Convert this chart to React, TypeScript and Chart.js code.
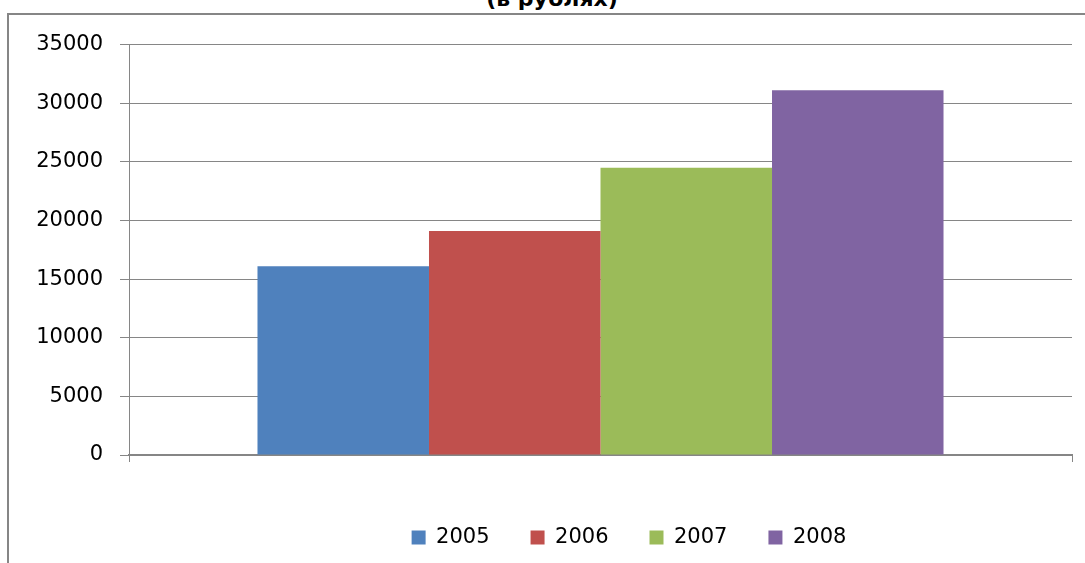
import React, { useEffect, useRef } from "react";
import { Chart, registerables } from "chart.js";

Chart.register(...registerables);

const titleText = "(в рублях)";
const categories = [""];
const seriesLabels = ["2005", "2006", "2007", "2008"];
const seriesValues = [16100, 19100, 24500, 31100];
const seriesColors = ["#4F81BD", "#C0504D", "#9BBB59", "#8064A2"];
const yTickValues = [0, 5000, 10000, 15000, 20000, 25000, 30000, 35000];

const FONT = "'DejaVu Sans', sans-serif";
const GRID = "#868686";

export default function App() {
  const canvasRef = useRef<HTMLCanvasElement | null>(null);

  useEffect(() => {
    const canvas = canvasRef.current;
    if (!canvas) return;
    const chart = new Chart(canvas, {
      type: "bar",
      data: {
        labels: categories,
        datasets: seriesLabels.map((label, i) => ({
          label,
          data: [seriesValues[i]],
          backgroundColor: seriesColors[i],
          borderWidth: 0,
          categoryPercentage: 0.7275,
          barPercentage: 1,
        })),
      },
      options: {
        responsive: false,
        animation: false,
        maintainAspectRatio: false,
        layout: { padding: { left: 0, right: 10, top: 29, bottom: 57 } },
        plugins: {
          tooltip: { enabled: false },
          title: { display: false },
          legend: {
            display: true,
            position: "bottom",
            labels: {
              boxWidth: 14,
              boxHeight: 14,
              padding: 41,
              color: "#000",
              font: { family: FONT, size: 21 },
            },
          },
        },
        scales: {
          x: {
            type: "category",
            grid: {
              offset: true,
              drawOnChartArea: false,
              drawTicks: true,
              tickLength: 7,
              color: GRID,
              lineWidth: 1,
            },
            border: { display: true, color: GRID, width: 2 },
            ticks: { display: false },
            afterFit: (s: any) => {
              s.height = 31;
            },
          },
          y: {
            type: "linear",
            position: "left",
            min: 0,
            max: 35000,
            afterBuildTicks: (s: any) => {
              s.ticks = yTickValues.map((v) => ({ value: v }));
            },
            grid: { color: GRID, lineWidth: 1, tickLength: 9, drawTicks: true },
            border: { display: true, color: GRID, width: 1 },
            ticks: {
              padding: 17,
              color: "#000",
              font: { family: FONT, size: 21 },
              callback: (v: any) => String(v),
            },
            afterFit: (s: any) => {
              s.width = 120;
            },
          },
          yPad: {
            type: "linear",
            position: "right",
            display: true,
            grid: { display: false, drawTicks: false },
            border: { display: false },
            ticks: { display: false },
            afterFit: (s: any) => {
              s.width = 177;
            },
          },
        },
      },
    });
    return () => chart.destroy();
  }, []);

  return (
    <div
      style={{
        position: "fixed",
        left: 0,
        top: 0,
        width: 1085,
        height: 563,
        overflow: "hidden",
        background: "#fff",
      }}
    >
      <div
        style={{
          position: "absolute",
          left: 0,
          width: 1104,
          textAlign: "center",
          top: -12,
          fontFamily: FONT,
          fontWeight: "bold",
          fontSize: 22,
          lineHeight: "22px",
          color: "#000",
          whiteSpace: "nowrap",
        }}
      >
        {titleText}
      </div>
      <div
        style={{
          position: "absolute",
          left: 7,
          top: 13,
          border: "2px solid " + GRID,
          width: 1250,
          height: 600,
        }}
      >
        <canvas
          ref={canvasRef}
          width={1250}
          height={600}
          style={{ display: "block", width: 1250, height: 600 }}
        />
      </div>
    </div>
  );
}
